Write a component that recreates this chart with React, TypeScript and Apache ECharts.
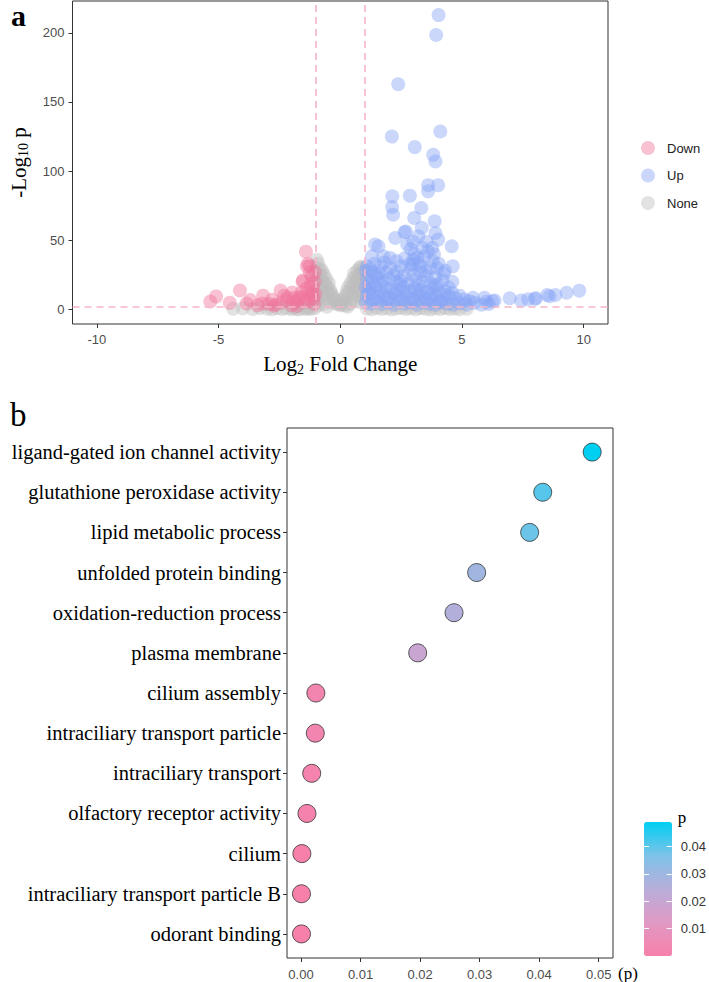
import React, { useEffect, useRef } from "react";
import * as echarts from "echarts";

// ---------- Panel a: volcano plot (log2 fold change, -log10 p) ----------
const FC_CUTOFF = 1;
const LOGP_CUTOFF = 2;
const VOLCANO_X_TICKS = [-10, -5, 0, 5, 10];
const VOLCANO_Y_TICKS = [0, 50, 100, 150, 200];

const DOWN: [number, number][] = [
  [-5.34, 5.8], [-5.1, 9.4], [-4.54, 4.8], [-4.12, 13.7], [-3.85, 4.3], [-3.7, 6.8],
  [-3.17, 10], [-3.2, 4.3], [-2.93, 4.0], [-2.73, 2.8], [-2.65, 3.6], [-2.45, 13.7],
  [-2.17, 8.7], [-2.2, 6.5], [-1.97, 12.3], [-1.78, 2.6], [-1.73, 7.2], [-1.55, 20],
  [-1.41, 41.8], [-1.37, 31], [-1.25, 31.5], [-1.33, 33], [-1.33, 12], [-1.17, 24],
  [-1.12, 16.6], [-1.25, 26.7], [-1.53, 21], [-1.5, 9], [-1.3, 6], [-1.2, 10],
  [-1.1, 8], [-1.6, 12], [-1.85, 5], [-2.0, 3], [-2.4, 5], [-2.8, 7], [-3.4, 3],
  [-1.4, 15], [-1.15, 13], [-1.05, 20], [-1.08, 4], [-1.45, 5.5], [-1.65, 9],
  [-2.3, 10], [-1.9, 8.5], [-1.02, 11], [-1.22, 18], [-1.05, 27],
];

const UP: [number, number][] = [
  // scattered high-significance genes
  [4.04, 212.8], [3.94, 198.4], [2.38, 162.8], [2.12, 125], [4.11, 128.7], [3.06, 117.4],
  [3.82, 111.8], [3.91, 107], [4.02, 89.8], [3.61, 89.8], [3.61, 85.4], [2.14, 81.8],
  [2.86, 82.3], [2.13, 74.1], [2.17, 68.5], [3.33, 73.4], [3.04, 66.2], [3.35, 59],
  [3.88, 63.8], [2.26, 51.7], [2.64, 55.8], [2.69, 56.3], [3.21, 52.9], [3.91, 55.3],
  [4.02, 50.5], [3.78, 44.5], [4.58, 45.7], [2.9, 43.7], [3.37, 44.5], [1.43, 46.9],
  [1.57, 45.7], [1.77, 38.5], [2.04, 37.3], [1.3, 38.5], [2.5, 31.2], [3.24, 33.7],
  [3.71, 30], [3.98, 30], [4.62, 31.2], [2.97, 32.5], [3.17, 37.3], [3.45, 38],
  [3.6, 42], [1.1, 31.2], [1.25, 29], [2.84, 32.5], [3.85, 40], [2.75, 47], [3.05, 40],
  [3.0, 49], [3.55, 49],
  // dense cluster near the threshold
  [1.05, 28], [1.35, 27], [1.6, 26], [1.9, 27], [2.2, 25], [2.6, 24], [3.0, 25],
  [3.3, 27], [3.55, 24], [3.9, 23],
  [1.1, 22], [1.3, 20], [1.5, 23], [1.75, 21], [2.0, 22], [2.3, 20], [2.5, 21],
  [2.8, 19], [3.1, 21], [3.4, 20], [3.7, 19], [4.0, 18], [4.2, 21], [4.45, 16],
  [1.05, 16], [1.25, 15], [1.45, 17], [1.65, 14], [1.85, 16], [2.1, 15], [2.35, 14],
  [2.6, 16], [2.85, 13], [3.05, 15], [3.3, 14], [3.55, 13], [3.8, 15], [4.05, 12],
  [4.3, 13], [4.6, 12], [4.9, 10],
  [1.1, 10], [1.3, 11], [1.55, 9], [1.8, 10], [2.0, 8], [2.25, 11], [2.45, 9],
  [2.7, 10], [2.95, 8], [3.2, 10], [3.45, 9], [3.7, 8], [3.95, 10], [4.2, 7],
  [4.5, 9], [4.75, 8], [5.1, 7.2], [5.45, 8.4], [5.92, 8.4], [5.3, 6],
  [1.05, 5], [1.25, 4], [1.5, 6], [1.7, 4], [1.95, 5], [2.2, 3.5], [2.4, 6],
  [2.65, 4], [2.9, 5], [3.15, 3.5], [3.4, 5], [3.65, 4], [3.9, 3.5], [4.15, 5],
  [4.4, 4], [4.65, 3.5], [4.9, 4.5], [5.2, 3.5], [5.51, 4.8], [5.8, 3.5], [6.1, 4],
  [6.26, 6], [6.34, 6.4], [6.0, 5.5],
  [1.15, 13], [1.6, 12], [2.15, 12.5], [2.7, 13], [3.25, 12], [3.75, 11], [4.35, 10.5],
  [1.35, 7], [1.9, 7.5], [2.5, 6.5], [3.05, 6.5], [3.55, 6.5], [4.05, 6],
  [1.2, 18.5], [1.7, 19], [2.45, 18], [3.2, 17.5], [3.9, 17],
  [1.45, 25], [2.35, 27], [2.9, 29], [3.5, 28], [4.25, 26], [2.05, 30], [1.65, 31],
  [1.8, 34], [1.4, 33], [2.3, 35], [2.65, 37], [3.0, 36], [3.3, 31], [3.8, 35],
  [4.05, 33], [4.3, 28], [4.6, 20],
  // large fold changes
  [6.96, 8.1], [7.43, 6.4], [7.72, 7.4], [8.04, 8.1], [8.5, 10.5], [8.6, 9.6],
  [8.84, 10.5], [9.3, 12.1], [9.82, 13.6], [7.99, 7.7],
];

const NONE: [number, number][] = [
  // left shoulder
  [-0.98, 30], [-0.96, 36], [-0.97, 22], [-0.95, 14], [-0.97, 6], [-0.9, 33],
  [-0.88, 26], [-0.85, 18], [-0.82, 29], [-0.8, 24], [-0.78, 10], [-0.75, 28],
  [-0.72, 20], [-0.7, 15], [-0.66, 25], [-0.62, 18], [-0.6, 8], [-0.57, 22],
  [-0.52, 16], [-0.5, 12], [-0.47, 19], [-0.42, 14], [-0.4, 5], [-0.37, 12],
  [-0.32, 10], [-0.28, 8], [-0.22, 7], [-0.18, 4], [-0.12, 6], [-0.06, 4], [0, 3],
  [-0.9, 3], [-0.7, 4], [-0.55, 2], [-0.85, 10], [-0.65, 11],
  // right shoulder
  [0.05, 4], [0.1, 6], [0.16, 8], [0.22, 10], [0.27, 13], [0.32, 16], [0.36, 12],
  [0.42, 19], [0.47, 16], [0.52, 22], [0.56, 26], [0.6, 20], [0.64, 24], [0.7, 28],
  [0.74, 22], [0.8, 30], [0.85, 31], [0.9, 27], [0.95, 30], [0.97, 24], [0.96, 18],
  [0.92, 12], [0.88, 20], [0.82, 15], [0.78, 25], [0.72, 10], [0.66, 14], [0.6, 6],
  [0.5, 8], [0.4, 4], [0.3, 2], [0.2, 3], [0.85, 5], [0.95, 8], [0.55, 11], [0.75, 17],
  // non-significant baseline
  [-4.4, 0.5], [-4.0, 0.8], [-3.6, 0.3], [-3.3, 1], [-3.0, 0.5], [-2.8, 0.2],
  [-2.6, 1], [-2.4, 0.4], [-2.2, 0.8], [-2.0, 0.2], [-1.9, 1.2], [-1.8, 0.5],
  [-1.7, 0.1], [-1.5, 0.8], [-1.4, 0.3], [-1.3, 1.1], [-1.2, 0.4], [-1.05, 1],
  [1.1, 0.5], [1.3, 0.2], [1.5, 1], [1.7, 0.4], [1.9, 0.9], [2.1, 0.1], [2.3, 0.7],
  [2.5, 1.1], [2.7, 0.3], [2.9, 0.8], [3.1, 0.2], [3.3, 1], [3.5, 0.5], [3.7, 0.1],
  [3.9, 0.8], [4.1, 0.4], [4.3, 1], [4.5, 0.3], [4.7, 0.7], [4.9, 0.2], [5.2, 0.5],
];

// ---------- Panel b: GO enrichment dot plot ----------
const GO_TERMS = [
  "ligand-gated ion channel activity",
  "glutathione peroxidase activity",
  "lipid metabolic process",
  "unfolded protein binding",
  "oxidation-reduction process",
  "plasma membrane",
  "cilium assembly",
  "intraciliary transport particle",
  "intraciliary transport",
  "olfactory receptor activity",
  "cilium",
  "intraciliary transport particle B",
  "odorant binding",
];
const GO_P = [
  0.0489, 0.0406, 0.0384, 0.0295, 0.0257, 0.0196,
  0.0025, 0.0024, 0.0018, 0.001, 0.00015, 0.00008, 0.00008,
];
const P_AXIS_TICKS = [0, 0.01, 0.02, 0.03, 0.04, 0.05];
const P_LEGEND_TICKS = [0.01, 0.02, 0.03, 0.04];

const SERIF = '"Liberation Serif", "Times New Roman", serif';
const SANS = '"Liberation Sans", Arial, sans-serif';

const P_MAX = Math.max(...GO_P);
const GO_INDEX = GO_TERMS.map((_, i) => i);

export default function App() {
  const ref = useRef<HTMLDivElement>(null);

  useEffect(() => {
    if (!ref.current) return;
    const chart = echarts.init(ref.current, undefined, { renderer: "svg" });

    const scatterBase = {
      type: "scatter" as const,
      xAxisIndex: 0,
      yAxisIndex: 0,
      symbol: "circle",
      symbolSize: 14,
      silent: true,
    };
    const hiddenLine = { show: false, onZero: false };

    const option: any = {
      animation: false,
      backgroundColor: "#ffffff",
      grid: [
        { left: 63, top: 1, width: 545, height: 323, show: true, borderColor: "#333", borderWidth: 1 },
        { left: 287, top: 428, width: 326, height: 530, show: true, borderColor: "#333", borderWidth: 1 },
        { left: 644, top: 822, width: 28, height: 134 },
      ],
      xAxis: [
        {
          gridIndex: 0,
          type: "value",
          position: "bottom",
          min: -11,
          max: 11,
          splitLine: { show: false },
          axisLine: hiddenLine,
          axisTick: { show: true, length: 4, lineStyle: { color: "#333" }, customValues: VOLCANO_X_TICKS },
          axisLabel: { customValues: VOLCANO_X_TICKS, color: "#4D4D4D", fontSize: 13, fontFamily: SANS, margin: 9 },
          name: "{n|Log}{s|2}{n| Fold Change}",
          nameLocation: "middle",
          nameGap: 28,
          nameTextStyle: {
            rich: {
              n: { fontFamily: SERIF, fontSize: 21, color: "#000" },
              s: { fontFamily: SERIF, fontSize: 14, color: "#000", padding: [10, 0, 0, 0] },
            },
          },
        },
        {
          gridIndex: 1,
          type: "value",
          position: "bottom",
          min: -0.00235,
          max: 0.0524,
          splitLine: { show: false },
          axisLine: hiddenLine,
          axisTick: { show: true, length: 4, lineStyle: { color: "#333" }, customValues: P_AXIS_TICKS },
          axisLabel: {
            customValues: P_AXIS_TICKS,
            formatter: (v: number) => v.toFixed(2),
            color: "#4D4D4D",
            fontSize: 13,
            fontFamily: SANS,
            margin: 10,
          },
          name: "(p)",
          nameLocation: "end",
          nameGap: 5,
          nameTextStyle: { fontFamily: SERIF, fontSize: 17, color: "#000", verticalAlign: "top", padding: [7, 0, 0, 0] },
        },
        { gridIndex: 2, type: "value", min: 0, max: 1, show: false },
      ],
      yAxis: [
        {
          gridIndex: 0,
          type: "value",
          position: "left",
          min: -10.5,
          max: 223,
          splitLine: { show: false },
          axisLine: hiddenLine,
          axisTick: { show: true, length: 4, lineStyle: { color: "#333" }, customValues: VOLCANO_Y_TICKS },
          axisLabel: { customValues: VOLCANO_Y_TICKS, color: "#4D4D4D", fontSize: 13, fontFamily: SANS, margin: 8 },
          name: "{n|-Log}{s|10}{n| p}",
          nameLocation: "middle",
          nameGap: 42,
          nameRotate: 90,
          nameTextStyle: {
            rich: {
              n: { fontFamily: SERIF, fontSize: 21, color: "#000" },
              s: { fontFamily: SERIF, fontSize: 14, color: "#000", padding: [10, 0, 0, 0] },
            },
          },
        },
        {
          gridIndex: 1,
          type: "value",
          position: "left",
          min: -0.6,
          max: 12.6,
          inverse: true,
          splitLine: { show: false },
          axisLine: hiddenLine,
          axisTick: { show: true, length: 4, lineStyle: { color: "#333" }, customValues: GO_INDEX },
          axisLabel: {
            customValues: GO_INDEX,
            formatter: (v: number) => GO_TERMS[Math.round(v)] ?? "",
            color: "#000",
            fontSize: 20.5,
            fontFamily: SERIF,
            margin: 6,
          },
        },
        {
          gridIndex: 2,
          type: "value",
          min: 0,
          max: P_MAX,
          position: "right",
          z: 10,
          splitLine: { show: false },
          axisLine: hiddenLine,
          axisTick: { show: true, inside: true, length: 5, lineStyle: { color: "#fff", width: 1 }, customValues: P_LEGEND_TICKS },
          axisLabel: {
            customValues: P_LEGEND_TICKS,
            formatter: (v: number) => v.toFixed(2),
            color: "#333",
            fontSize: 13,
            fontFamily: SANS,
            margin: 9,
          },
          name: "p",
          nameLocation: "end",
          nameGap: -4,
          nameTextStyle: { fontFamily: SERIF, fontSize: 17, color: "#000", align: "left", padding: [0, 0, 0, 6] },
        },
        {
          gridIndex: 2,
          type: "value",
          min: 0,
          max: P_MAX,
          position: "left",
          z: 10,
          splitLine: { show: false },
          axisLine: hiddenLine,
          axisTick: { show: true, inside: true, length: 5, lineStyle: { color: "#fff", width: 1 }, customValues: P_LEGEND_TICKS },
          axisLabel: { show: false },
        },
      ],
      legend: {
        data: ["Down", "Up", "None"],
        orient: "vertical",
        left: 636,
        top: 136,
        itemWidth: 14,
        itemHeight: 14,
        itemGap: 13.5,
        icon: "circle",
        textStyle: { fontSize: 13, color: "#222", fontFamily: SANS, padding: [0, 0, 0, 7] },
      },
      visualMap: {
        type: "continuous",
        seriesIndex: 3,
        dimension: 0,
        min: 0,
        max: P_MAX,
        left: 644,
        top: 822,
        itemWidth: 28,
        itemHeight: 134,
        padding: 0,
        calculable: false,
        hoverLink: false,
        inRange: { color: ["#F780AA", "#E099C4", "#B8AEDA", "#7EC2E8", "#00CFF2"] },
      },
      series: [
        { ...scatterBase, name: "None", data: NONE, itemStyle: { color: "rgba(189,189,189,0.55)" } },
        { ...scatterBase, name: "Down", data: DOWN, itemStyle: { color: "rgba(240,115,155,0.55)" } },
        {
          ...scatterBase,
          name: "Up",
          data: UP,
          itemStyle: { color: "rgba(135,165,245,0.55)" },
          markLine: {
            silent: true,
            symbol: ["none", "none"],
            label: { show: false },
            lineStyle: { type: [7, 5], color: "#F6B5C7", width: 1.6 },
            data: [{ xAxis: -FC_CUTOFF }, { xAxis: FC_CUTOFF }, { yAxis: LOGP_CUTOFF }],
          },
        },
        {
          type: "scatter",
          name: "GO",
          xAxisIndex: 1,
          yAxisIndex: 1,
          symbol: "circle",
          symbolSize: 18,
          silent: true,
          itemStyle: { borderColor: "#333", borderWidth: 0.8, opacity: 1 },
          data: GO_P.map((p, i) => [p, i]),
        },
      ],
      graphic: [
        { type: "text", left: 11, top: 0, style: { text: "a", font: `bold 30px ${SERIF}`, fill: "#000" } },
        { type: "text", left: 10, top: 398, style: { text: "b", font: `33px ${SERIF}`, fill: "#000" } },
      ],
    };

    chart.setOption(option);
    return () => chart.dispose();
  }, []);

  return (
    <div
      ref={ref}
      style={{ position: "absolute", left: 0, top: 0, width: 709, height: 982 }}
    />
  );
}
